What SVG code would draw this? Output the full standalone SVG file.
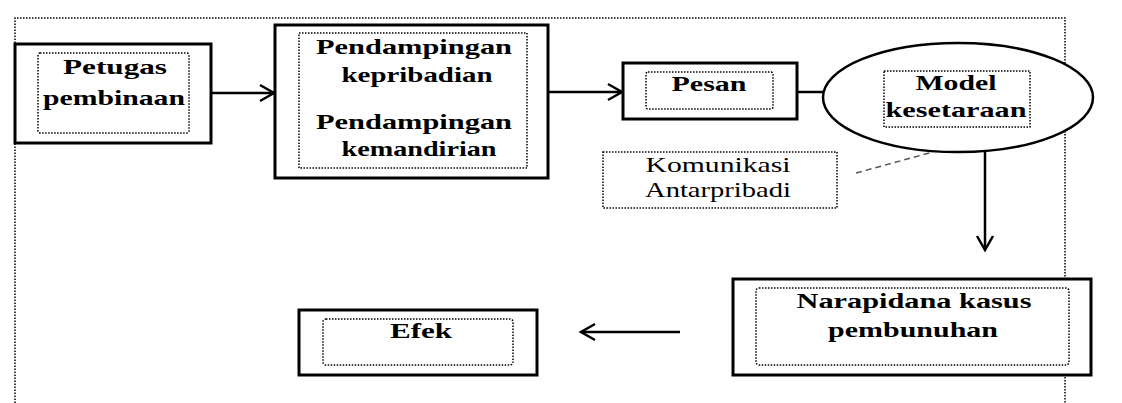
<svg xmlns="http://www.w3.org/2000/svg" width="1122" height="403" viewBox="0 0 1122 403">
<style>
.box{fill:#fff;stroke:#000;stroke-width:3}
.inner{fill:none;stroke:#000;stroke-width:1.5;stroke-dasharray:1.5 1.5}
.frame{fill:none;stroke:#000;stroke-width:1.5;stroke-dasharray:1.5 1.5}
.t{font-family:"Liberation Serif","Times New Roman",serif;font-weight:bold;font-size:22px;fill:#000;text-anchor:middle}
.tn{font-family:"Liberation Serif","Times New Roman",serif;font-size:21px;fill:#000;text-anchor:middle}
.conn{fill:none;stroke:#000;stroke-width:2.5}
</style>
<defs>
<marker id="arr" markerUnits="userSpaceOnUse" markerWidth="24" markerHeight="24" refX="20" refY="12" orient="auto">
<path d="M6,4 L20,12 L6,20" fill="none" stroke="#000" stroke-width="2.5"/>
</marker>
</defs>
<rect width="1122" height="403" fill="#fff"/>
<path class="frame" d="M15,403 V18 H1065 V403"/>
<g id="connectors">
<line class="conn" x1="212" y1="93" x2="274" y2="93" marker-end="url(#arr)"/>
<line class="conn" x1="548" y1="92" x2="622" y2="92" marker-end="url(#arr)"/>
<line class="conn" x1="797" y1="92" x2="824" y2="92"/>
<line x1="856" y1="173" x2="933" y2="152" stroke="#555" stroke-width="1.5" stroke-dasharray="6 4"/>
<line class="conn" x1="985" y1="144" x2="985" y2="250" marker-end="url(#arr)"/>
<line class="conn" x1="680" y1="332" x2="581" y2="332" marker-end="url(#arr)"/>
</g>
<g id="petugas">
<rect class="box" x="15" y="44" width="196" height="99"/>
<rect class="inner" x="38" y="53" width="151" height="80" rx="2"/>
<text class="t" x="115" y="74" textLength="104" lengthAdjust="spacingAndGlyphs">Petugas</text>
<text class="t" x="114" y="105" textLength="142" lengthAdjust="spacingAndGlyphs">pembinaan</text>
</g>
<g id="pendampingan">
<rect class="box" x="275" y="25" width="273" height="153"/>
<rect class="inner" x="299" y="33" width="228" height="135"/>
<text class="t" x="414" y="54" textLength="196" lengthAdjust="spacingAndGlyphs">Pendampingan</text>
<text class="t" x="417" y="82" textLength="151" lengthAdjust="spacingAndGlyphs">kepribadian</text>
<text class="t" x="414" y="129" textLength="196" lengthAdjust="spacingAndGlyphs">Pendampingan</text>
<text class="t" x="419" y="156" textLength="155" lengthAdjust="spacingAndGlyphs">kemandirian</text>
</g>
<g id="pesan">
<rect class="box" x="623" y="63" width="174" height="56"/>
<rect class="inner" x="646" y="72" width="127" height="37" rx="2"/>
<text class="t" x="709" y="91" textLength="75" lengthAdjust="spacingAndGlyphs">Pesan</text>
</g>
<g id="model">
<ellipse cx="958" cy="97.5" rx="135" ry="54.5" fill="#fff" stroke="#000" stroke-width="2.5"/>
<rect class="inner" x="884" y="71" width="146" height="56"/>
<text class="t" x="956" y="90" textLength="81" lengthAdjust="spacingAndGlyphs">Model</text>
<text class="t" x="956" y="117" textLength="141" lengthAdjust="spacingAndGlyphs">kesetaraan</text>
</g>
<g id="komunikasi">
<rect class="inner" x="603" y="152" width="234" height="56"/>
<text class="tn" x="718" y="172" textLength="145" lengthAdjust="spacingAndGlyphs">Komunikasi</text>
<text class="tn" x="718" y="197" textLength="146" lengthAdjust="spacingAndGlyphs">Antarpribadi</text>
</g>
<g id="narapidana">
<rect class="box" x="733" y="279" width="358" height="96"/>
<rect class="inner" x="756" y="288" width="313" height="77" rx="3"/>
<text class="t" x="914" y="308" textLength="235" lengthAdjust="spacingAndGlyphs">Narapidana kasus</text>
<text class="t" x="913" y="337" textLength="170" lengthAdjust="spacingAndGlyphs">pembunuhan</text>
</g>
<g id="efek">
<rect class="box" x="299" y="310" width="238" height="65"/>
<rect class="inner" x="323" y="319" width="190" height="46" rx="3"/>
<text class="t" x="421" y="338" textLength="62" lengthAdjust="spacingAndGlyphs">Efek</text>
</g>
</svg>
